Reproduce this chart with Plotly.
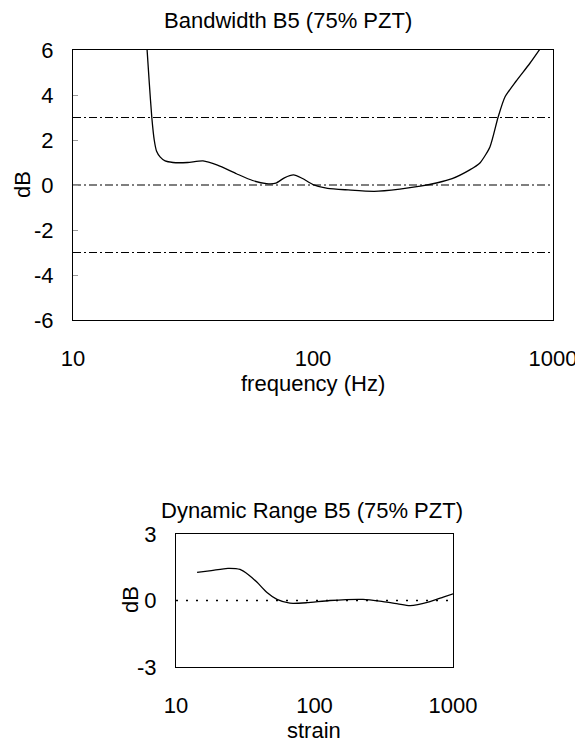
import plotly.graph_objects as go

# Top chart: Bandwidth B5 (75% PZT)
freq_hz = [20.3, 20.8, 21.3, 21.8, 22.3, 23.1, 24.2, 26.1, 30.0, 34.8, 40.0, 48.0, 56.0, 64.0,
           70.0, 76.0, 83.0, 90.0, 100.0, 115.0, 140.0, 180.0, 230.0, 280.0, 330.0, 380.0,
           450.0, 496.0, 546.0, 590.0, 630.0, 700.0, 800.0, 890.0]
bandwidth_db = [6.2, 4.5, 3.0, 2.0, 1.5, 1.24, 1.07, 1.0, 1.0, 1.07, 0.88, 0.5, 0.2, 0.06,
                0.08, 0.32, 0.45, 0.3, 0.02, -0.15, -0.22, -0.28, -0.18, -0.05, 0.1, 0.28,
                0.67, 0.98, 1.69, 3.0, 3.9, 4.6, 5.4, 6.1]
ref_levels = [3, 0, -3]

# Bottom chart: Dynamic Range B5 (75% PZT)
strain = [14.2, 18.0, 23.7, 29.0, 33.5, 38.5, 45.4, 53.6, 66.5, 88.0, 129.0, 224.0, 312.0,
          400.0, 490.0, 682.0, 850.0, 1069.0]
dynamic_db = [1.27, 1.35, 1.45, 1.4, 1.15, 0.82, 0.36, 0.05, -0.12, -0.1, 0.0, 0.05, -0.05,
              -0.15, -0.23, -0.05, 0.15, 0.36]

y_ticks_top = [6, 4, 2, 0, -2, -4, -6]
y_ticks_bot = [3, 0, -3]
x_ticks = [10, 100, 1000]

FONT = "Liberation Sans, Arial, sans-serif"
PAGE_OFF = 8  # default body margin of the html page
W, H = 583 - PAGE_OFF, 742 - PAGE_OFF

fig = go.Figure()

for lvl in ref_levels:
    fig.add_trace(go.Scatter(x=[10, 1000], y=[lvl, lvl], mode="lines",
                             line=dict(color="black", width=1.2, dash="8px,3px,2px,3px"),
                             xaxis="x", yaxis="y", showlegend=False, hoverinfo="skip"))
fig.add_trace(go.Scatter(x=freq_hz, y=bandwidth_db, mode="lines",
                         line=dict(color="black", width=1.3, shape="spline", smoothing=0.6),
                         xaxis="x", yaxis="y", showlegend=False))

fig.add_trace(go.Scatter(x=[10, 1000], y=[0, 0], mode="lines",
                         line=dict(color="black", width=1.6, dash="2px,8px"),
                         xaxis="x2", yaxis="y2", showlegend=False, hoverinfo="skip"))
fig.add_trace(go.Scatter(x=strain, y=dynamic_db, mode="lines",
                         line=dict(color="black", width=1.3, shape="spline", smoothing=0.6),
                         xaxis="x2", yaxis="y2", showlegend=False))

def px_x(p):
    return (p - PAGE_OFF) / W

def px_y(p):
    return 1 - (p - PAGE_OFF) / H

axis_common = dict(showgrid=False, zeroline=False, showline=True, linecolor="black",
                   linewidth=1.2, mirror=True, automargin=False,
                   tickfont=dict(family=FONT, size=22, color="black"))

def lbl(v):
    return str(v)

def ann(text, x, y, angle=0):
    return dict(text=text, x=px_x(x), y=px_y(y), xref="paper", yref="paper",
                xanchor="center", yanchor="middle", textangle=angle,
                showarrow=False, font=dict(family=FONT, size=22, color="black"))

fig.update_layout(
    width=W, height=H,
    margin=dict(l=0, r=0, t=0, b=0, autoexpand=False),
    paper_bgcolor="white", plot_bgcolor="white",
    font=dict(family=FONT, size=22, color="black"),
    xaxis=dict(type="log", range=[1, 3], domain=[px_x(73), px_x(553)], anchor="y",
               tickvals=x_ticks, ticktext=[lbl(v) for v in x_ticks], ticks="",
               ticklabelstandoff=18, **axis_common),
    yaxis=dict(range=[-6, 6], domain=[px_y(320), px_y(50)], anchor="x",
               tickvals=y_ticks_top, ticktext=[lbl(v) for v in y_ticks_top],
               ticks="inside", ticklen=5, tickcolor="#999999",
               ticklabelstandoff=14, **axis_common),
    xaxis2=dict(type="log", range=[1, 3], domain=[px_x(176), px_x(453)], anchor="y2",
                tickvals=x_ticks, ticktext=[lbl(v) for v in x_ticks], ticks="",
                ticklabelstandoff=18, **axis_common),
    yaxis2=dict(range=[-3, 3], domain=[px_y(667), px_y(534)], anchor="x2",
                tickvals=y_ticks_bot, ticktext=[lbl(v) for v in y_ticks_bot],
                ticks="", ticklabelstandoff=14, **axis_common),
    annotations=[
        ann("Bandwidth B5 (75% PZT)", 288, 20),
        ann("frequency (Hz)", 313, 383),
        ann("dB", 22, 185, -90),
        ann("Dynamic Range B5 (75% PZT)", 312, 510),
        ann("strain", 314, 730),
        ann("dB", 130, 600, -90),
    ],
)

fig.write_html("out.html")
